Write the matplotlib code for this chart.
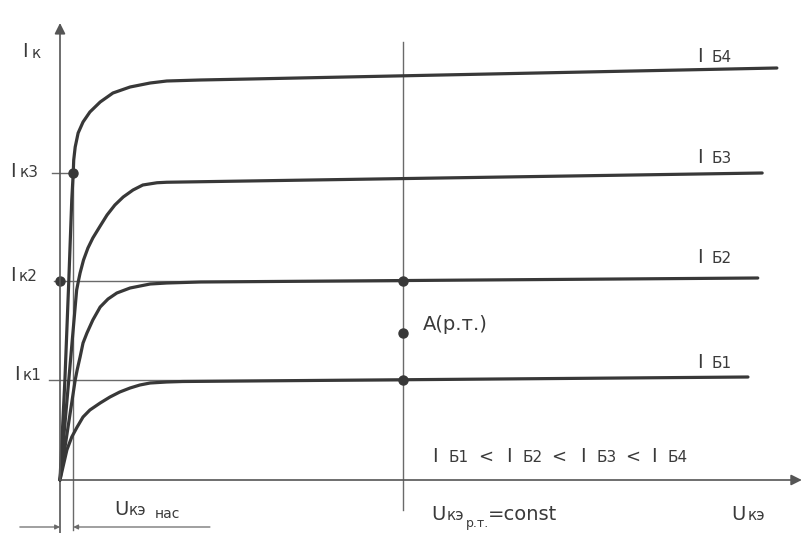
import matplotlib
matplotlib.use("Agg")
import matplotlib.pyplot as plt

W, H = 803, 533

# ---- data (U in V, I in mA; schematic values) ----
U_b4 = [0, 0.10, 0.18, 0.24, 0.27, 0.28, 0.31, 0.37, 0.47, 0.61, 0.82, 1.08, 1.43, 1.84, 2.18, 2.86, 3.88, 14.63]
I_b4 = [0, 4.0, 8.0, 11.2, 12.28, 12.8, 13.32, 13.88, 14.32, 14.72, 15.12, 15.48, 15.72, 15.88, 15.96, 16.0, 16.04, 16.48]

U_b3 = [0, 0.34, 0.38, 0.41, 0.48, 0.57, 0.67, 0.82, 0.96, 1.12, 1.29, 1.49, 1.69, 1.98, 2.18, 14.33]
I_b3 = [0, 7.6, 8.0, 8.28, 8.8, 9.28, 9.68, 10.16, 10.6, 11.0, 11.32, 11.6, 11.8, 11.89, 11.91, 12.28]

U_b2 = [0, 0.31, 0.35, 0.41, 0.47, 0.55, 0.67, 0.82, 0.98, 1.16, 1.43, 1.84, 2.18, 2.86, 14.24]
I_b2 = [0, 4.0, 4.4, 4.92, 5.48, 5.88, 6.4, 6.92, 7.24, 7.48, 7.68, 7.84, 7.88, 7.92, 8.08]

U_b1 = [0, 0.14, 0.24, 0.35, 0.47, 0.61, 0.82, 1.02, 1.22, 1.43, 1.63, 1.84, 2.18, 2.51, 14.04]
I_b1 = [0, 1.2, 1.72, 2.12, 2.52, 2.8, 3.08, 3.32, 3.52, 3.68, 3.8, 3.88, 3.92, 3.94, 4.12]

U_sat = 0.27          # U кэ нас
U_rt = 7.0            # U кэ р.т.
I_k = [4.0, 7.96, 12.28]    # Iк1, Iк2, Iк3
I_A = 5.88            # working point A

U_axis_end = 15.14
I_axis_end = 18.28

# ---- figure ----
fig = plt.figure(figsize=(W / 100, H / 100), dpi=100, facecolor="white")
ax = fig.add_axes([0, 0, 1, 1])
ax.set_xlim(-60 / 49, 743 / 49)
ax.set_ylim(-53 / 25, 480 / 25)
ax.axis("off")

curve_c = "#383838"
thin_c = "#6a6a6a"
axis_c = "#555555"
text_c = "#3a3a3a"

# axes with arrows
ax.annotate("", xy=(0, I_axis_end), xytext=(0, 0),
            arrowprops=dict(arrowstyle="-|>", mutation_scale=16, lw=1.2,
                            color=axis_c, shrinkA=0, shrinkB=0))
ax.annotate("", xy=(U_axis_end, 0), xytext=(0, 0),
            arrowprops=dict(arrowstyle="-|>", mutation_scale=16, lw=1.2,
                            color=axis_c, shrinkA=0, shrinkB=0))
ax.plot([0, 0], [-2.12, 0], color=axis_c, lw=1.2)

# vertical construction lines
ax.plot([U_sat, U_sat], [-2.0, I_k[2]], color=thin_c, lw=1.0)
ax.plot([U_rt, U_rt], [-1.2, 17.52], color=thin_c, lw=1.0)

# horizontal current levels
ax.plot([-0.16, U_sat], [I_k[2], I_k[2]], color=thin_c, lw=1.0)
ax.plot([-0.12, U_rt], [I_k[1], I_k[1]], color=thin_c, lw=1.0)
ax.plot([-0.22, U_rt], [I_k[0], I_k[0]], color=thin_c, lw=1.0)

# characteristic curves
for U, I in [(U_b1, I_b1), (U_b2, I_b2), (U_b3, I_b3), (U_b4, I_b4)]:
    ax.plot(U, I, color=curve_c, lw=2.3, solid_joinstyle="round",
            solid_capstyle="round")

# dots
ax.plot([0], [I_k[1]], "o", color=curve_c, ms=6.5)
ax.plot([U_sat], [I_k[2]], "o", color=curve_c, ms=6.5)
ax.plot([U_rt, U_rt, U_rt], [I_k[1], I_A, I_k[0]], "o", color=curve_c, ms=6.5)

# dimension arrows for U кэ нас
ax.annotate("", xy=(0, -1.88), xytext=(-0.82, -1.88),
            arrowprops=dict(arrowstyle="-|>", mutation_scale=7, lw=0.9,
                            color=thin_c, shrinkA=0, shrinkB=0))
ax.annotate("", xy=(U_sat, -1.88), xytext=(3.06, -1.88),
            arrowprops=dict(arrowstyle="-|>", mutation_scale=7, lw=0.9,
                            color=thin_c, shrinkA=0, shrinkB=0))


def T(x, y, s, size):
    fig.text(x / W, 1 - y / H, s, fontsize=size, ha="left", va="baseline",
             color=text_c, family="DejaVu Sans")


BIG, SUB = 14, 11

T(22, 57, "I", BIG); T(32, 58, "к", SUB)
T(10, 177, "I", BIG); T(20, 177, "к3", SUB)
T(10, 281, "I", BIG); T(19, 281, "к2", SUB)
T(14, 380, "I", BIG); T(23, 380, "к1", SUB)

for yb, lab in [(62, "Б4"), (163, "Б3"), (263, "Б2"), (368, "Б1")]:
    T(697, yb, "I", BIG)
    T(712, yb, lab, SUB)

T(423, 330, "A(р.т.)", BIG)

for xi, lab in [(432, "Б1"), (506, "Б2"), (580, "Б3"), (651, "Б4")]:
    T(xi, 462, "I", BIG)
    T(xi + 17, 462, lab, SUB)
for xl in [478, 551, 625]:
    T(xl, 462, "<", 13)

T(431, 520, "U", BIG); T(447, 520, "кэ", SUB); T(466, 527, "р.т.", 9)
T(488, 520, "=const", BIG)

T(731, 520, "U", BIG); T(748, 520, "кэ", SUB)

T(114, 515, "U", BIG); T(129, 515, "кэ", SUB); T(155, 518, "нас", 10)

fig.savefig("out.png", dpi=100, facecolor="white")
